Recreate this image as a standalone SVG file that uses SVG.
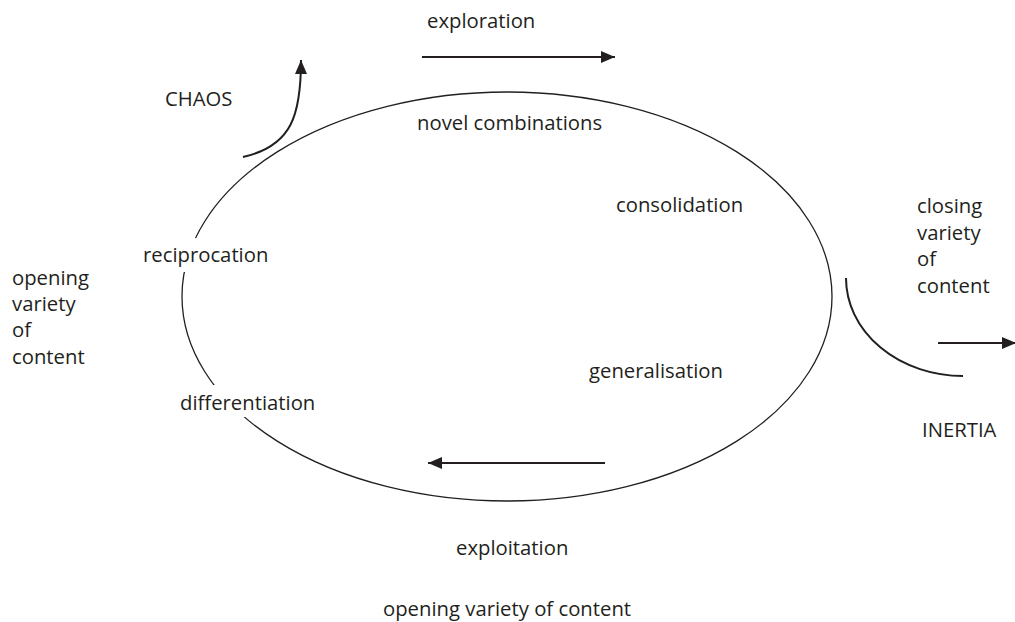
<svg xmlns="http://www.w3.org/2000/svg" width="1015" height="622" viewBox="0 0 1015 622">
<defs>
<marker id="ah" markerUnits="userSpaceOnUse" markerWidth="16" markerHeight="12" refX="14" refY="6" orient="auto">
<path d="M0,0 L14,6 L0,12 Z" fill="#231f20"/>
</marker>
<style>
text{font-family:"Open Sans","Noto Sans","Liberation Sans",sans-serif;font-size:20.3px;fill:#231f20}
.ln{fill:none;stroke:#231f20;stroke-width:2}
.el{fill:none;stroke:#231f20;stroke-width:1.3}
.bg{fill:#fff}
</style>
</defs>
<rect width="1015" height="622" fill="#fff"/>
<g id="cycle">
<ellipse class="el" cx="507" cy="296.5" rx="325" ry="204.5"/>
</g>
<g id="connectors">
<path class="ln" d="M243,157 C292,146 301,115 301,60" marker-end="url(#ah)"/>
<path class="ln" d="M422,57 L615,57" marker-end="url(#ah)"/>
<path class="ln" d="M605,463 L428,463" marker-end="url(#ah)"/>
<path class="ln" d="M846,278 A117,98 0 0 0 963,376"/>
<path class="ln" d="M938,343 L1016,343" marker-end="url(#ah)"/>
</g>
<g id="n-exploration"><text x="427" y="28">exploration</text></g>
<g id="n-chaos"><text x="165" y="106">CHAOS</text></g>
<g id="n-novel"><text x="417" y="130">novel combinations</text></g>
<g id="n-consolidation"><text x="616" y="212">consolidation</text></g>
<g id="n-reciprocation"><rect class="bg" x="140" y="238" width="130" height="34"/><text x="143" y="262">reciprocation</text></g>
<g id="n-generalisation"><text x="589" y="378">generalisation</text></g>
<g id="n-differentiation"><rect class="bg" x="177" y="385" width="144" height="32"/><text x="180" y="410">differentiation</text></g>
<g id="n-exploitation"><text x="456" y="555">exploitation</text></g>
<g id="n-opening-bottom"><text x="383" y="616">opening variety of content</text></g>
<g id="n-opening-left"><text x="12" y="285">opening</text><text x="12" y="311">variety</text><text x="12" y="337">of</text><text x="12" y="364">content</text></g>
<g id="n-closing"><text x="917" y="213">closing</text><text x="917" y="239.5">variety</text><text x="917" y="266">of</text><text x="917" y="292.5">content</text></g>
<g id="n-inertia"><text x="922" y="437">INERTIA</text></g>
</svg>
